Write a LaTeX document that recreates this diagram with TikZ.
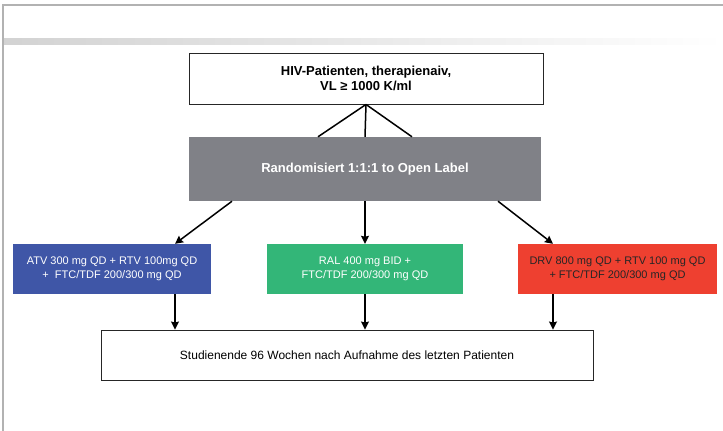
\documentclass[tikz,border=0pt]{standalone}
\usepackage{fontspec}
\setmainfont{Liberation Sans}
\usepackage{xcolor}
\usepackage{tikz}
\usetikzlibrary{arrows.meta}
\usetikzlibrary{positioning}

\definecolor{randgray}{RGB}{128,129,135}
\definecolor{armblue}{RGB}{63,86,167}
\definecolor{armgreen}{RGB}{51,182,120}
\definecolor{armred}{RGB}{238,64,48}

\begin{document}
\begin{tikzpicture}[
      >={Stealth[length=8pt,width=8pt,inset=1pt]},
      x=1pt, y=-1pt,
      box/.style={draw=black!85, line width=0.9pt, inner sep=0pt, align=center},
      arm/.style={inner sep=0pt, align=center, minimum width=197pt, minimum height=50pt,
                  font=\fontsize{11}{14}\selectfont},
      conn/.style={line width=1.5pt}
    ]
    \useasboundingbox (0,0) rectangle (723,431);

    % Rahmen
    \shade[left color=gray!35, right color=white] (3,38) rectangle (723,44);
    \draw[gray!60, line width=1.5pt] (3,431) -- (3,5) -- (723,5);

    % Kaesten
    \node[box, minimum width=354pt, minimum height=51pt, font=\fontsize{13}{15.5}\selectfont\bfseries]
      (pat) at (366,78.5) {HIV-Patienten, therapienaiv,\\VL ≥ 1000 K/ml};
    \node[fill=randgray, text=white, inner sep=0pt, minimum width=352pt, minimum height=64pt,
          font=\fontsize{13}{15.5}\selectfont\bfseries]
      (rand) at (365,169) {Randomisiert 1:1:1 to Open Label};

    \node[arm, fill=armblue, text=white, minimum width=198pt] (atv) at (112,269)
      {ATV 300 mg QD + RTV 100mg QD\\+\ \ FTC/TDF 200/300 mg QD};
    \node[arm, fill=armgreen, text=white, minimum width=196pt] (ral) at (365,269)
      {RAL 400 mg BID +\\FTC/TDF 200/300 mg QD};
    \node[arm, fill=armred, text=black!85, minimum width=199pt] (drv) at (617.5,269)
      {DRV 800 mg QD + RTV 100 mg QD\\+ FTC/TDF 200/300 mg QD};

    \node[box, minimum width=492pt, minimum height=50pt, font=\fontsize{12}{14}\selectfont]
      (ende) at (347,355) {Studienende 96 Wochen nach Aufnahme des letzten Patienten};

    % Verbindungen
    \draw[conn] (pat.south) -- ([xshift=-47pt]rand.north);
    \draw[conn] (pat.south) -- (rand.north);
    \draw[conn] (pat.south) -- ([xshift=47pt]rand.north);

    \draw[conn, ->] ([xshift=-133pt]rand.south) -- ([xshift=63pt]atv.north);
    \draw[conn, ->] (rand.south) -- (ral.north);
    \draw[conn, ->] ([xshift=133pt]rand.south) -- ([xshift=-64.5pt]drv.north);

    \draw[conn, ->] ([xshift=63pt]atv.south) -- ([xshift=63pt]atv.south |- ende.north);
    \draw[conn, ->] (ral.south) -- (ral.south |- ende.north);
    \draw[conn, ->] ([xshift=-64.5pt]drv.south) -- ([xshift=-64.5pt]drv.south |- ende.north);
  \end{tikzpicture}
\end{document}
